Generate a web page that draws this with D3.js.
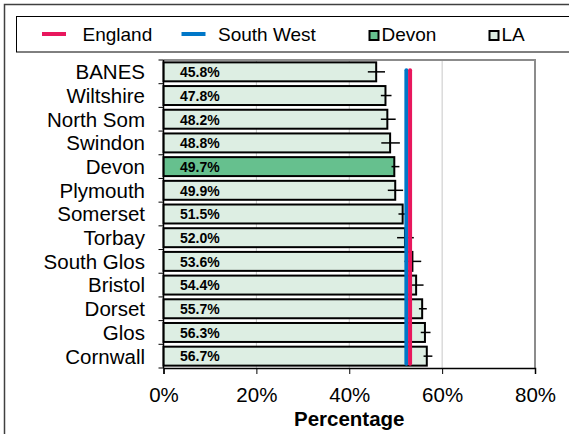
<!DOCTYPE html>
<html>
<head>
<meta charset="utf-8">
<script src="https://cdn.jsdelivr.net/npm/d3@7"></script>
<style>
  body { margin: 0; background: #fff; }
  text { font-family: "Liberation Sans", Arial, sans-serif; }
</style>
</head>
<body>
<div class="graph"></div>
<script>
// data
var areas = ["BANES", "Wiltshire", "North Som", "Swindon", "Devon", "Plymouth", "Somerset",
             "Torbay", "South Glos", "Bristol", "Dorset", "Glos", "Cornwall"];
var values = [45.8, 47.8, 48.2, 48.8, 49.7, 49.9, 51.5, 52.0, 53.6, 54.4, 55.7, 56.3, 56.7];
var lower  = [44.0, 46.8, 46.8, 46.9, 49.1, 48.3, 50.6, 50.3, 51.9, 52.9, 55.0, 55.4, 56.0];
var upper  = [47.7, 49.1, 50.0, 50.9, 50.8, 51.6, 52.2, 53.9, 55.5, 56.0, 56.7, 57.5, 57.9];
var england = 53.1;
var southWest = 52.3;
var highlight = "Devon";
var xTicks = [0, 20, 40, 60, 80];

var width = 569, height = 434;
var plot = {left: 163.5, right: 535, top: 60, bottom: 368};

var svg = d3.select(".graph").append("svg")
    .attr("width", width)
    .attr("height", height);

// outer chart border
svg.append("rect")
    .attr("x", 4.5).attr("y", 4.5)
    .attr("width", width + 10).attr("height", height + 10)
    .attr("fill", "none").attr("stroke", "#404040").attr("stroke-width", 1.5);

var x = d3.scaleLinear().domain([0, 80]).range([plot.left, plot.right]);
var y = d3.scaleBand().domain(areas).range([plot.top, plot.bottom]).paddingInner(0.2).paddingOuter(0.1);

// gridlines
svg.append("g").selectAll("line")
    .data(xTicks.slice(1, -1))
    .enter().append("line")
    .attr("x1", function(d) { return x(d); })
    .attr("x2", function(d) { return x(d); })
    .attr("y1", plot.top).attr("y2", plot.bottom)
    .attr("stroke", "#c8c8c8").attr("stroke-width", 1);

// plot frame top and right
svg.append("path")
    .attr("d", "M" + plot.left + "," + plot.top + "H" + plot.right + "V" + plot.bottom)
    .attr("fill", "none").attr("stroke", "#8c8c8c").attr("stroke-width", 2);

// bars
svg.append("g").selectAll("rect")
    .data(areas)
    .enter().append("rect")
    .attr("x", x(0))
    .attr("y", function(d) { return y(d); })
    .attr("width", function(d, i) { return x(values[i]) - x(0); })
    .attr("height", y.bandwidth())
    .attr("fill", function(d) { return d == highlight ? "#66c08e" : "#ddeee3"; })
    .attr("stroke", "#000").attr("stroke-width", 2);

// error bars
svg.append("g").selectAll("line")
    .data(areas)
    .enter().append("line")
    .attr("x1", function(d, i) { return x(lower[i]); })
    .attr("x2", function(d, i) { return x(upper[i]); })
    .attr("y1", function(d) { return y(d) + y.bandwidth() / 2; })
    .attr("y2", function(d) { return y(d) + y.bandwidth() / 2; })
    .attr("stroke", "#000").attr("stroke-width", 1.5);

// value labels
svg.append("g").selectAll("text")
    .data(areas)
    .enter().append("text")
    .attr("x", x(0) + 16.5)
    .attr("y", function(d) { return y(d) + y.bandwidth() / 2; })
    .attr("dy", "0.38em")
    .attr("font-size", 14)
    .attr("font-weight", "bold")
    .text(function(d, i) { return values[i].toFixed(1) + "%"; });

// England and South West reference lines
var ends = [y(areas[0]) + 8, y(areas[areas.length - 1]) + y.bandwidth() - 2];
svg.append("line")
    .attr("x1", x(southWest)).attr("x2", x(southWest))
    .attr("y1", ends[0]).attr("y2", ends[1])
    .attr("stroke", "#0077c8").attr("stroke-width", 4).attr("stroke-linecap", "round");
svg.append("line")
    .attr("x1", x(england)).attr("x2", x(england))
    .attr("y1", ends[0]).attr("y2", ends[1])
    .attr("stroke", "#e8175d").attr("stroke-width", 4).attr("stroke-linecap", "round");

// y axis
var yAxis = svg.append("g")
    .attr("transform", "translate(" + plot.left + ",0)");
yAxis.append("line")
    .attr("x1", 0).attr("x2", 0).attr("y1", plot.top).attr("y2", plot.bottom)
    .attr("stroke", "#000").attr("stroke-width", 1.5);
yAxis.selectAll(".tk")
    .data(d3.range(areas.length + 1))
    .enter().append("line")
    .attr("x1", -5).attr("x2", 0)
    .attr("y1", function(i) { return plot.top + i * (plot.bottom - plot.top) / areas.length; })
    .attr("y2", function(i) { return plot.top + i * (plot.bottom - plot.top) / areas.length; })
    .attr("stroke", "#000");
yAxis.selectAll("text")
    .data(areas)
    .enter().append("text")
    .attr("x", -18.5)
    .attr("y", function(d) { return y(d) + y.bandwidth() / 2; })
    .attr("dy", "0.36em")
    .attr("text-anchor", "end")
    .attr("font-size", 20.5)
    .text(function(d) { return d; });

// x axis
var xAxis = svg.append("g")
    .attr("transform", "translate(0," + plot.bottom + ")")
    .call(d3.axisBottom(x).tickValues(xTicks).tickSize(6).tickPadding(13)
        .tickFormat(function(d) { return d + "%"; }));
xAxis.select(".domain").attr("stroke-width", 1.5);
xAxis.selectAll("text")
    .attr("font-size", 20.5)
    .attr("font-family", "Liberation Sans, Arial, sans-serif")
    .attr("fill", "#000");

svg.append("text")
    .attr("x", (plot.left + plot.right) / 2)
    .attr("y", 425.5)
    .attr("text-anchor", "middle")
    .attr("font-size", 20.5)
    .attr("font-weight", "bold")
    .text("Percentage");

// legend
var legend = svg.append("g");
legend.append("rect")
    .attr("x", 16.5).attr("y", 16.5)
    .attr("width", width).attr("height", 35.5)
    .attr("fill", "#fff").attr("stroke", "#000").attr("stroke-width", 1);

var legendItems = [
  {name: "England", type: "line", color: "#e8175d", x: 42, tx: 82.5},
  {name: "South West", type: "line", color: "#0077c8", x: 181.5, tx: 218},
  {name: "Devon", type: "box", color: "#66c08e", x: 369.5, tx: 381.5},
  {name: "LA", type: "box", color: "#ddeee3", x: 489.5, tx: 501.5}
];
legendItems.forEach(function(d) {
  if (d.type == "line") {
    legend.append("line")
      .attr("x1", d.x).attr("x2", d.x + 24)
      .attr("y1", 34).attr("y2", 34)
      .attr("stroke", d.color).attr("stroke-width", 4);
  } else {
    legend.append("rect")
      .attr("x", d.x).attr("y", 31)
      .attr("width", 9).attr("height", 9)
      .attr("fill", d.color).attr("stroke", "#000").attr("stroke-width", 2);
  }
  legend.append("text")
    .attr("x", d.tx).attr("y", 34)
    .attr("dy", "0.36em")
    .attr("font-size", 19)
    .text(d.name);
});
</script>
</body>
</html>
